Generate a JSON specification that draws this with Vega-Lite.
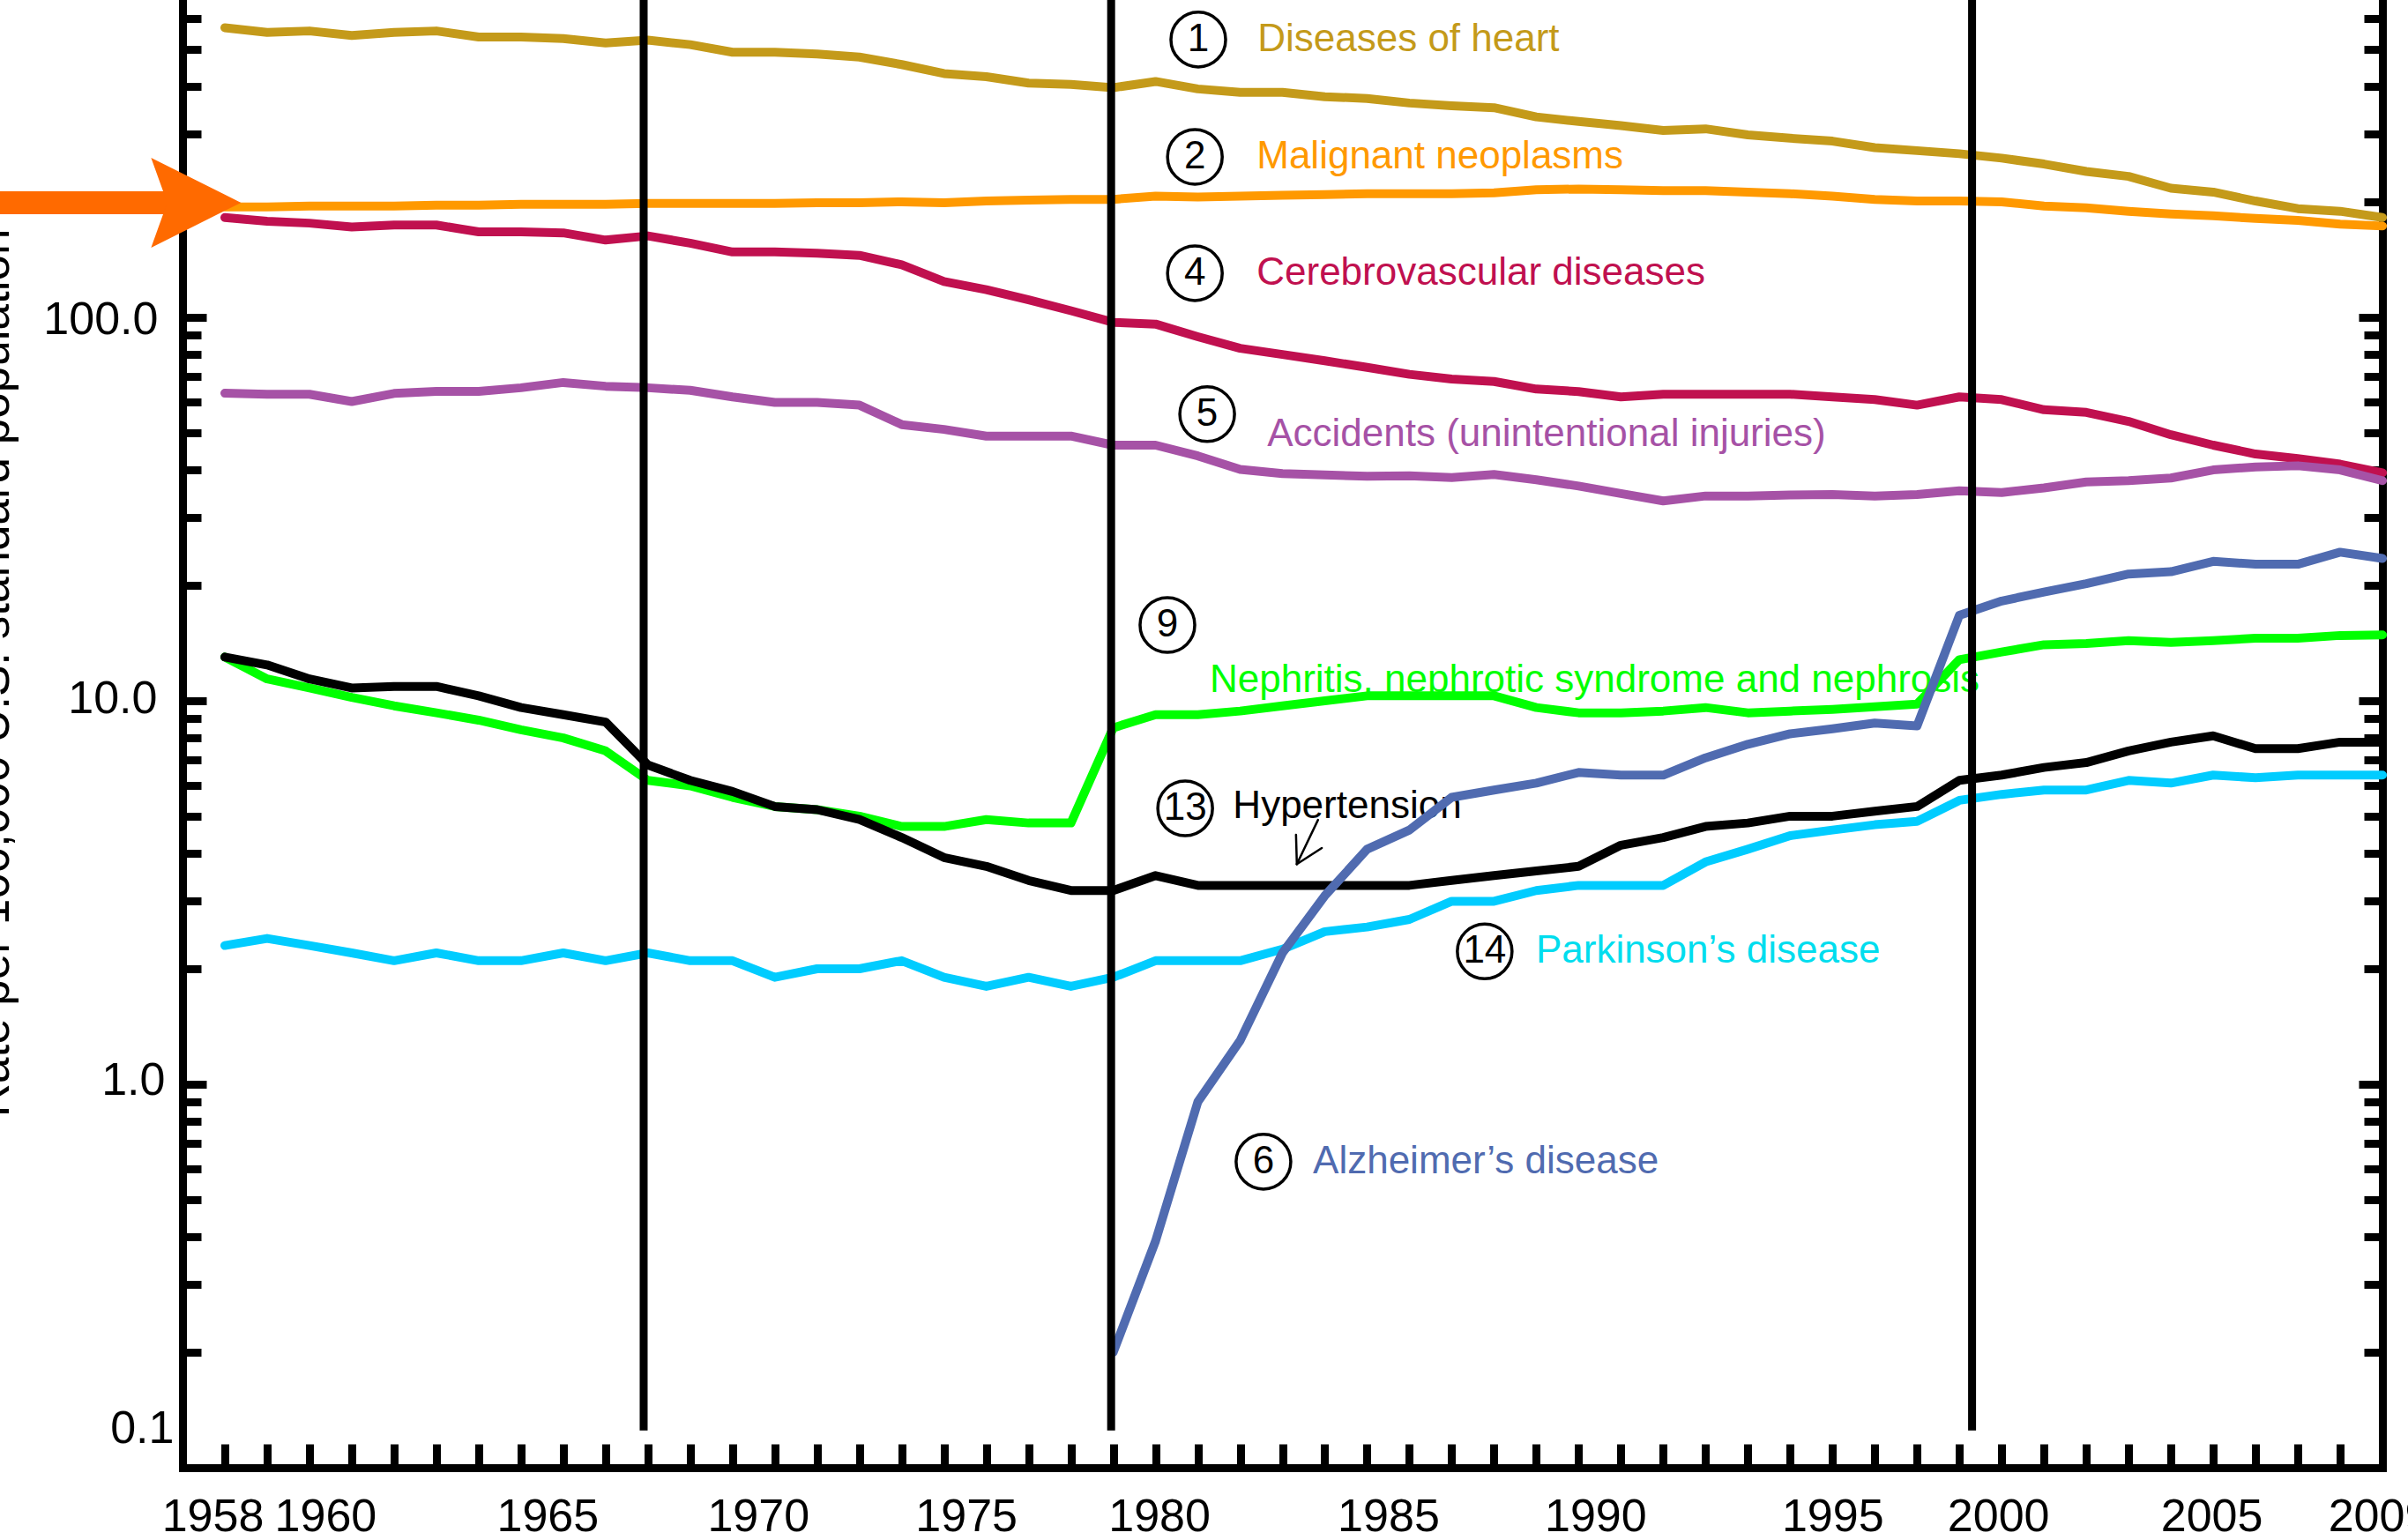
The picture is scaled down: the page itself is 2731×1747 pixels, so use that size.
{
  "$schema": "https://vega.github.io/schema/vega-lite/v6.json",
  "width": 2495,
  "height": 1665,
  "autosize": {"type": "none"},
  "padding": {"left": 207, "top": 0, "right": 29, "bottom": 82},
  "background": "white",
  "config": {
    "font": "Liberation Sans",
    "view": {"stroke": null},
    "axis": {"grid": false, "domainColor": "black", "tickColor": "black", "labelColor": "black", "titleColor": "black", "domainCap": "square", "labelFont": "Liberation Sans", "titleFont": "Liberation Sans", "labelFlush": false, "labelOverlap": false}
  },
  "datasets": {
    "rates": [
      {"year": 1958, "heart": 569, "cancer": 194, "stroke": 182, "accidents": 63.4, "nephritis": 13.0, "hypertension": 13.0, "parkinson": 2.3, "alzheimer": null},
      {"year": 1959, "heart": 553, "cancer": 194, "stroke": 178, "accidents": 63.0, "nephritis": 11.4, "hypertension": 12.4, "parkinson": 2.4, "alzheimer": null},
      {"year": 1960, "heart": 558, "cancer": 195, "stroke": 176, "accidents": 63.0, "nephritis": 10.8, "hypertension": 11.4, "parkinson": 2.3, "alzheimer": null},
      {"year": 1961, "heart": 543, "cancer": 195, "stroke": 172, "accidents": 60.3, "nephritis": 10.2, "hypertension": 10.8, "parkinson": 2.2, "alzheimer": null},
      {"year": 1962, "heart": 553, "cancer": 195, "stroke": 174, "accidents": 63.3, "nephritis": 9.7, "hypertension": 10.9, "parkinson": 2.1, "alzheimer": null},
      {"year": 1963, "heart": 558, "cancer": 196, "stroke": 174, "accidents": 64.1, "nephritis": 9.3, "hypertension": 10.9, "parkinson": 2.2, "alzheimer": null},
      {"year": 1964, "heart": 538, "cancer": 196, "stroke": 167, "accidents": 64.1, "nephritis": 8.9, "hypertension": 10.3, "parkinson": 2.1, "alzheimer": null},
      {"year": 1965, "heart": 538, "cancer": 197, "stroke": 167, "accidents": 65.5, "nephritis": 8.4, "hypertension": 9.6, "parkinson": 2.1, "alzheimer": null},
      {"year": 1966, "heart": 533, "cancer": 197, "stroke": 166, "accidents": 67.6, "nephritis": 8.0, "hypertension": 9.2, "parkinson": 2.2, "alzheimer": null},
      {"year": 1967, "heart": 519, "cancer": 197, "stroke": 159, "accidents": 66.1, "nephritis": 7.4, "hypertension": 8.8, "parkinson": 2.1, "alzheimer": null},
      {"year": 1968, "heart": 528, "cancer": 198, "stroke": 163, "accidents": 65.5, "nephritis": 6.2, "hypertension": 6.8, "parkinson": 2.2, "alzheimer": null},
      {"year": 1969, "heart": 514, "cancer": 198, "stroke": 156, "accidents": 64.5, "nephritis": 6.0, "hypertension": 6.2, "parkinson": 2.1, "alzheimer": null},
      {"year": 1970, "heart": 491, "cancer": 198, "stroke": 148, "accidents": 62.0, "nephritis": 5.6, "hypertension": 5.8, "parkinson": 2.1, "alzheimer": null},
      {"year": 1971, "heart": 491, "cancer": 198, "stroke": 148, "accidents": 60.0, "nephritis": 5.3, "hypertension": 5.3, "parkinson": 1.9, "alzheimer": null},
      {"year": 1972, "heart": 486, "cancer": 199, "stroke": 147, "accidents": 60.0, "nephritis": 5.2, "hypertension": 5.2, "parkinson": 2.0, "alzheimer": null},
      {"year": 1973, "heart": 477, "cancer": 199, "stroke": 145, "accidents": 59.0, "nephritis": 5.0, "hypertension": 4.9, "parkinson": 2.0, "alzheimer": null},
      {"year": 1974, "heart": 456, "cancer": 200, "stroke": 137, "accidents": 52.5, "nephritis": 4.7, "hypertension": 4.4, "parkinson": 2.1, "alzheimer": null},
      {"year": 1975, "heart": 432, "cancer": 199, "stroke": 124, "accidents": 51.0, "nephritis": 4.7, "hypertension": 3.9, "parkinson": 1.9, "alzheimer": null},
      {"year": 1976, "heart": 424, "cancer": 201, "stroke": 118, "accidents": 49.0, "nephritis": 4.9, "hypertension": 3.7, "parkinson": 1.8, "alzheimer": null},
      {"year": 1977, "heart": 408, "cancer": 202, "stroke": 111, "accidents": 49.0, "nephritis": 4.8, "hypertension": 3.4, "parkinson": 1.9, "alzheimer": null},
      {"year": 1978, "heart": 405, "cancer": 203, "stroke": 104, "accidents": 49.0, "nephritis": 4.8, "hypertension": 3.2, "parkinson": 1.8, "alzheimer": null},
      {"year": 1979, "heart": 397, "cancer": 203, "stroke": 97, "accidents": 46.4, "nephritis": 8.5, "hypertension": 3.2, "parkinson": 1.9, "alzheimer": 0.2},
      {"year": 1980, "heart": 412, "cancer": 207, "stroke": 96, "accidents": 46.4, "nephritis": 9.2, "hypertension": 3.5, "parkinson": 2.1, "alzheimer": 0.39},
      {"year": 1981, "heart": 394, "cancer": 206, "stroke": 89, "accidents": 43.5, "nephritis": 9.2, "hypertension": 3.3, "parkinson": 2.1, "alzheimer": 0.9},
      {"year": 1982, "heart": 386, "cancer": 207, "stroke": 83, "accidents": 40.1, "nephritis": 9.4, "hypertension": 3.3, "parkinson": 2.1, "alzheimer": 1.3},
      {"year": 1983, "heart": 386, "cancer": 208, "stroke": 80, "accidents": 39.1, "nephritis": 9.7, "hypertension": 3.3, "parkinson": 2.25, "alzheimer": 2.2},
      {"year": 1984, "heart": 376, "cancer": 209, "stroke": 77, "accidents": 38.8, "nephritis": 10.0, "hypertension": 3.3, "parkinson": 2.5, "alzheimer": 3.1},
      {"year": 1985, "heart": 372, "cancer": 210, "stroke": 74, "accidents": 38.5, "nephritis": 10.3, "hypertension": 3.3, "parkinson": 2.57, "alzheimer": 4.1},
      {"year": 1986, "heart": 362, "cancer": 210, "stroke": 71, "accidents": 38.6, "nephritis": 10.3, "hypertension": 3.3, "parkinson": 2.69, "alzheimer": 4.6},
      {"year": 1987, "heart": 356, "cancer": 210, "stroke": 69, "accidents": 38.2, "nephritis": 10.3, "hypertension": 3.4, "parkinson": 3.0, "alzheimer": 5.6},
      {"year": 1988, "heart": 352, "cancer": 211, "stroke": 68, "accidents": 38.9, "nephritis": 10.3, "hypertension": 3.5, "parkinson": 3.0, "alzheimer": 5.85},
      {"year": 1989, "heart": 333, "cancer": 215, "stroke": 65, "accidents": 37.7, "nephritis": 9.6, "hypertension": 3.6, "parkinson": 3.2, "alzheimer": 6.1},
      {"year": 1990, "heart": 324, "cancer": 216, "stroke": 64, "accidents": 36.3, "nephritis": 9.3, "hypertension": 3.7, "parkinson": 3.3, "alzheimer": 6.5},
      {"year": 1991, "heart": 316, "cancer": 215, "stroke": 62, "accidents": 34.7, "nephritis": 9.3, "hypertension": 4.2, "parkinson": 3.3, "alzheimer": 6.4},
      {"year": 1992, "heart": 307, "cancer": 214, "stroke": 63, "accidents": 33.2, "nephritis": 9.4, "hypertension": 4.4, "parkinson": 3.3, "alzheimer": 6.4},
      {"year": 1993, "heart": 310, "cancer": 214, "stroke": 63, "accidents": 34.2, "nephritis": 9.6, "hypertension": 4.7, "parkinson": 3.8, "alzheimer": 7.1},
      {"year": 1994, "heart": 299, "cancer": 212, "stroke": 63, "accidents": 34.2, "nephritis": 9.3, "hypertension": 4.8, "parkinson": 4.1, "alzheimer": 7.7},
      {"year": 1995, "heart": 293, "cancer": 210, "stroke": 63, "accidents": 34.4, "nephritis": 9.4, "hypertension": 5.0, "parkinson": 4.45, "alzheimer": 8.2},
      {"year": 1996, "heart": 288, "cancer": 207, "stroke": 62, "accidents": 34.5, "nephritis": 9.5, "hypertension": 5.0, "parkinson": 4.6, "alzheimer": 8.45},
      {"year": 1997, "heart": 277, "cancer": 203, "stroke": 61, "accidents": 34.2, "nephritis": 9.65, "hypertension": 5.15, "parkinson": 4.75, "alzheimer": 8.75},
      {"year": 1998, "heart": 272, "cancer": 201, "stroke": 59, "accidents": 34.5, "nephritis": 9.8, "hypertension": 5.3, "parkinson": 4.85, "alzheimer": 8.6},
      {"year": 1999, "heart": 267, "cancer": 201, "stroke": 62, "accidents": 35.3, "nephritis": 12.8, "hypertension": 6.2, "parkinson": 5.5, "alzheimer": 16.7},
      {"year": 2000, "heart": 260, "cancer": 200, "stroke": 61, "accidents": 34.9, "nephritis": 13.4, "hypertension": 6.4, "parkinson": 5.7, "alzheimer": 18.2},
      {"year": 2001, "heart": 251, "cancer": 195, "stroke": 57.4, "accidents": 35.9, "nephritis": 14.0, "hypertension": 6.7, "parkinson": 5.85, "alzheimer": 19.2},
      {"year": 2002, "heart": 240, "cancer": 193, "stroke": 56.5, "accidents": 37.2, "nephritis": 14.1, "hypertension": 6.9, "parkinson": 5.85, "alzheimer": 20.2},
      {"year": 2003, "heart": 233, "cancer": 189, "stroke": 53.5, "accidents": 37.5, "nephritis": 14.35, "hypertension": 7.4, "parkinson": 6.2, "alzheimer": 21.4},
      {"year": 2004, "heart": 217, "cancer": 186, "stroke": 49.4, "accidents": 38.1, "nephritis": 14.2, "hypertension": 7.8, "parkinson": 6.1, "alzheimer": 21.7},
      {"year": 2005, "heart": 212, "cancer": 184, "stroke": 46.4, "accidents": 40.0, "nephritis": 14.35, "hypertension": 8.1, "parkinson": 6.4, "alzheimer": 23.1},
      {"year": 2006, "heart": 201, "cancer": 181, "stroke": 44.0, "accidents": 40.7, "nephritis": 14.55, "hypertension": 7.5, "parkinson": 6.3, "alzheimer": 22.7},
      {"year": 2007, "heart": 192, "cancer": 179, "stroke": 42.8, "accidents": 41.0, "nephritis": 14.55, "hypertension": 7.5, "parkinson": 6.4, "alzheimer": 22.7},
      {"year": 2008, "heart": 189, "cancer": 175, "stroke": 41.4, "accidents": 40.0, "nephritis": 14.8, "hypertension": 7.8, "parkinson": 6.4, "alzheimer": 24.4},
      {"year": 2009, "heart": 182, "cancer": 173, "stroke": 39.3, "accidents": 37.5, "nephritis": 14.85, "hypertension": 7.8, "parkinson": 6.4, "alzheimer": 23.5}
    ],
    "labels": [
      {"cause": "heart", "text": "Diseases of heart", "year": 1982.41, "rate": 530},
      {"cause": "cancer", "text": "Malignant neoplasms", "year": 1982.39, "rate": 262},
      {"cause": "stroke", "text": "Cerebrovascular diseases", "year": 1982.39, "rate": 130.3},
      {"cause": "accidents", "text": "Accidents (unintentional injuries)", "year": 1982.64, "rate": 49.5},
      {"cause": "nephritis", "text": "Nephritis, nephrotic syndrome and nephrosis", "year": 1981.28, "rate": 11.29},
      {"cause": "hypertension", "text": "Hypertension", "year": 1981.83, "rate": 5.30},
      {"cause": "parkinson", "text": "Parkinson’s disease", "year": 1988.99, "rate": 2.22},
      {"cause": "alzheimer", "text": "Alzheimer’s disease", "year": 1983.72, "rate": 0.628}
    ],
    "ranks": [
      {"rank": "1", "year": 1981.01, "rate": 529.9},
      {"rank": "2", "year": 1980.93, "rate": 262},
      {"rank": "4", "year": 1980.93, "rate": 130.3},
      {"rank": "5", "year": 1981.22, "rate": 55.9},
      {"rank": "9", "year": 1980.28, "rate": 15.76},
      {"rank": "13", "year": 1980.70, "rate": 5.24},
      {"rank": "14", "year": 1987.78, "rate": 2.22},
      {"rank": "6", "year": 1982.55, "rate": 0.628}
    ],
    "hypertension_pointer": [
      {"x1": 1983.84, "y1": 4.89, "x2": 1983.34, "y2": 3.75},
      {"x1": 1983.34, "y1": 3.75, "x2": 1983.32, "y2": 4.47},
      {"x1": 1983.34, "y1": 3.75, "x2": 1983.93, "y2": 4.13}
    ],
    "revisions": [
      {"year": 1967.9, "icd": "ICDA-8"},
      {"year": 1978.95, "icd": "ICD-9"},
      {"year": 1999.3, "icd": "ICD-10"}
    ],
    "cancer_pointer": [
      {"start": 1952.4, "end": 1956.75, "tip": 1957.32, "rate": 199}
    ]
  },
  "layer": [
    {
      "data": {"name": "labels"},
      "mark": {"type": "text", "fontSize": 44, "align": "left", "baseline": "middle", "font": "Liberation Sans"},
      "encoding": {
        "x": {"field": "year", "type": "quantitative", "scale": {"domain": [1957, 2009], "nice": false, "zero": false}, "axis": null},
        "y": {
          "field": "rate", "type": "quantitative",
          "scale": {"type": "log", "domain": [0.1, 672], "nice": false},
          "axis": {
            "orient": "left",
            "values": [0.1, 1, 10, 100],
            "format": ".1f",
            "domain": false,
            "ticks": true,
            "tickSize": 0,
            "tickOpacity": 0,
            "labelFontSize": 52,
            "labelAlign": "right",
            "labelBaseline": "middle",
            "labelPadding": {"condition": [
              {"test": "datum.value == 100", "value": 28},
              {"test": "datum.value == 10", "value": 29},
              {"test": "datum.value == 1", "value": 20}
            ], "value": 10},
            "labelOffset": {"condition": [
              {"test": "datum.value == 100", "value": 3},
              {"test": "datum.value == 10", "value": -2},
              {"test": "datum.value == 1", "value": -4}
            ], "value": -45},
            "title": "Rate per 100,000 U.S. standard population",
            "titleFontSize": 53,
            "titleFontWeight": "normal",
            "titleAngle": 270,
            "titleAlign": "center",
            "titleBaseline": "alphabetic",
            "titleX": -198,
            "titleY": 763
          }
        },
        "text": {"field": "text"},
        "color": {"field": "cause", "type": "nominal", "legend": null,
          "scale": {"domain": ["heart", "cancer", "stroke", "accidents", "nephritis", "hypertension", "parkinson", "alzheimer"],
                    "range": ["#C49A1A", "#FF9900", "#C0104F", "#A652A6", "#00FF00", "#000000", "#00DDEE", "#506BB0"]}}
      }
    },
    {
      "data": {"name": "hypertension_pointer"},
      "mark": {"type": "rule", "color": "black", "strokeWidth": 2.5, "strokeCap": "round"},
      "encoding": {
        "x": {"field": "x1", "type": "quantitative", "axis": null},
        "y": {"field": "y1", "type": "quantitative", "axis": null},
        "x2": {"field": "x2"},
        "y2": {"field": "y2"}
      }
    },
    {
      "data": {"name": "ranks"},
      "mark": {"type": "point", "shape": "circle", "filled": false, "size": 3848, "stroke": "black", "strokeWidth": 3.5, "opacity": 1},
      "encoding": {
        "x": {"field": "year", "type": "quantitative", "axis": null},
        "y": {"field": "rate", "type": "quantitative",
          "axis": {"orient": "right", "values": [0.1, 1, 10, 100], "labels": false, "tickSize": -27, "tickWidth": 9, "domain": true, "domainWidth": 9, "title": null}}
      }
    },
    {
      "data": {"name": "ranks"},
      "mark": {"type": "text", "fontSize": 44, "align": "center", "baseline": "middle", "color": "black", "font": "Liberation Sans"},
      "encoding": {
        "x": {"field": "year", "type": "quantitative", "axis": null},
        "y": {"field": "rate", "type": "quantitative",
          "axis": {"orient": "right", "values": [0.2, 0.3, 0.4, 0.5, 0.6, 0.7, 0.8, 0.9, 2, 3, 4, 5, 6, 7, 8, 9, 20, 30, 40, 50, 60, 70, 80, 90, 200, 300, 400, 500, 600], "labels": false, "tickSize": -21, "tickWidth": 9, "domain": false, "title": null}},
        "text": {"field": "rank"}
      }
    },
    {
      "data": {"name": "rates"},
      "transform": [
        {"fold": ["heart", "cancer", "stroke", "accidents", "nephritis", "hypertension", "parkinson", "alzheimer"], "as": ["cause", "rate"]},
        {"filter": "datum.rate != null"}
      ],
      "mark": {"type": "line", "strokeWidth": 10, "strokeCap": "round", "strokeJoin": "round"},
      "encoding": {
        "x": {"field": "year", "type": "quantitative",
          "axis": {"orient": "bottom", "values": [1958, 1959, 1960, 1961, 1962, 1963, 1964, 1965, 1966, 1967, 1968, 1969, 1970, 1971, 1972, 1973, 1974, 1975, 1976, 1977, 1978, 1979, 1980, 1981, 1982, 1983, 1984, 1985, 1986, 1987, 1988, 1989, 1990, 1991, 1992, 1993, 1994, 1995, 1996, 1997, 1998, 1999, 2000, 2001, 2002, 2003, 2004, 2005, 2006, 2007, 2008],
                   "labels": false, "tickSize": -27, "tickWidth": 9, "domain": true, "domainWidth": 9, "title": null}},
        "y": {"field": "rate", "type": "quantitative",
          "axis": {"orient": "left", "values": [0.1, 1, 10, 100], "labels": false, "tickSize": -27, "tickWidth": 9, "domain": true, "domainWidth": 9, "title": null}},
        "color": {"field": "cause", "type": "nominal", "legend": null,
          "scale": {"domain": ["heart", "cancer", "stroke", "accidents", "nephritis", "hypertension", "parkinson", "alzheimer"],
                    "range": ["#C49A1A", "#FF9900", "#C0104F", "#A652A6", "#00FF00", "#000000", "#00CCFF", "#506BB0"]}}
      }
    },
    {
      "data": {"name": "revisions"},
      "mark": {"type": "rule", "color": "black", "strokeWidth": 9},
      "encoding": {
        "x": {"field": "year", "type": "quantitative",
          "axis": {"orient": "bottom", "values": [1958, 1960, 1965, 1970, 1975, 1980, 1985, 1990, 1995, 2000, 2005, 2009], "format": "d",
                   "domain": false, "ticks": true, "tickSize": 0, "tickOpacity": 0, "labelFontSize": 52, "labelBaseline": "alphabetic", "labelPadding": 71,
                   "labelOffset": {"condition": [
                     {"test": "datum.value == 1958", "value": -14},
                     {"test": "datum.value == 1960", "value": 18},
                     {"test": "datum.value == 1965", "value": 30},
                     {"test": "datum.value == 1970", "value": 29},
                     {"test": "datum.value == 1975", "value": 25},
                     {"test": "datum.value == 1980", "value": 4},
                     {"test": "datum.value == 1985", "value": 24},
                     {"test": "datum.value == 1990", "value": 19},
                     {"test": "datum.value == 1995", "value": 48},
                     {"test": "datum.value == 2000", "value": -4},
                     {"test": "datum.value == 2005", "value": -2}
                   ], "value": -4},
                   "title": null}},
        "y": {"datum": 0.125, "type": "quantitative",
          "axis": {"orient": "left", "values": [0.2, 0.3, 0.4, 0.5, 0.6, 0.7, 0.8, 0.9, 2, 3, 4, 5, 6, 7, 8, 9, 20, 30, 40, 50, 60, 70, 80, 90, 200, 300, 400, 500, 600], "labels": false, "tickSize": -21, "tickWidth": 9, "domain": false, "title": null}},
        "y2": {"datum": 672}
      }
    },
    {
      "data": {"name": "cancer_pointer"},
      "mark": {"type": "rule", "color": "#FF6A00", "strokeWidth": 26, "strokeCap": "butt"},
      "encoding": {
        "x": {"field": "start", "type": "quantitative", "axis": null},
        "x2": {"field": "end"},
        "y": {"field": "rate", "type": "quantitative", "axis": null}
      }
    },
    {
      "data": {"name": "cancer_pointer"},
      "mark": {"type": "point", "shape": "M1,0L-1,-1L-0.64,0L-1,1Z", "filled": true, "size": 10404, "color": "#FF6A00", "opacity": 1, "strokeWidth": 0},
      "encoding": {
        "x": {"field": "tip", "type": "quantitative", "axis": null},
        "y": {"field": "rate", "type": "quantitative", "axis": null}
      }
    }
  ],
  "resolve": {"axis": {"x": "independent", "y": "independent"}, "scale": {"color": "independent"}}
}
